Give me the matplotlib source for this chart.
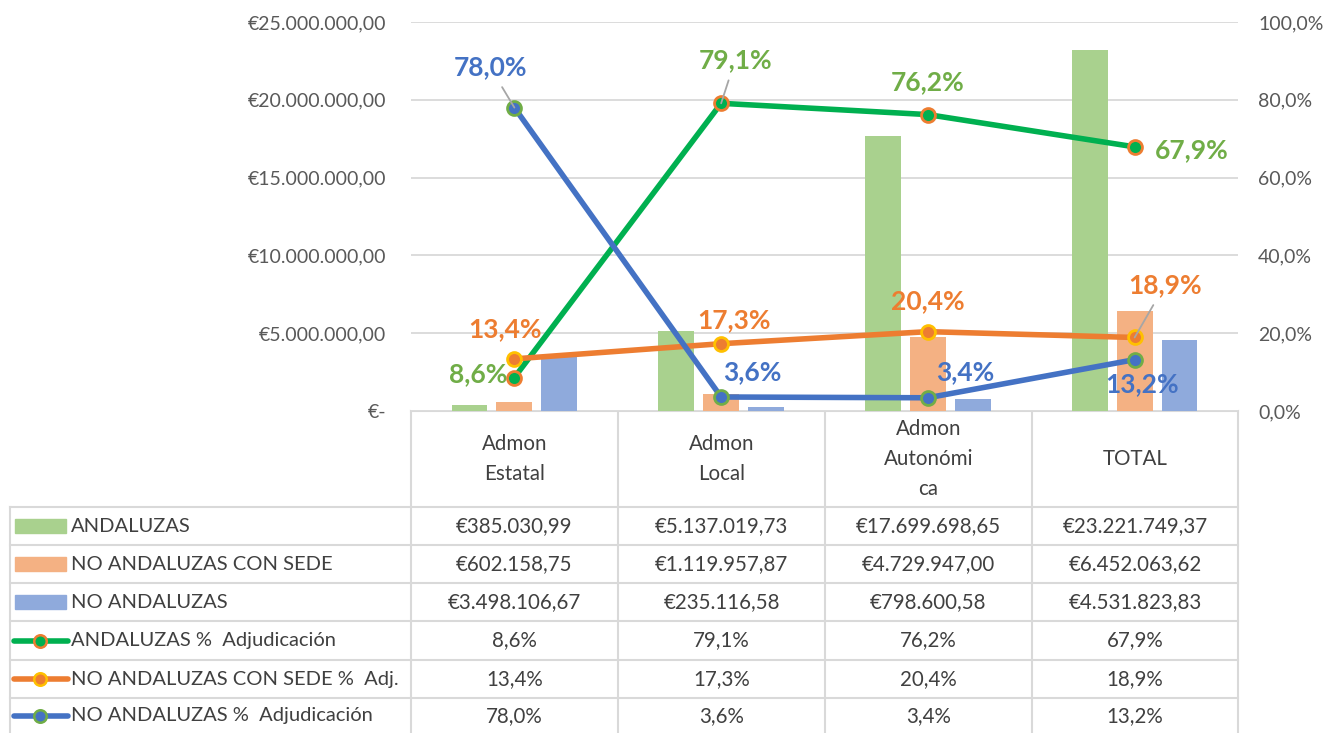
import matplotlib
matplotlib.use("Agg")
import matplotlib.pyplot as plt
from matplotlib.patches import Rectangle
from matplotlib.lines import Line2D
import numpy as np

plt.rcParams['font.family'] = ['Lato', 'DejaVu Sans']

categories = ["Admon\nEstatal", "Admon\nLocal", "Admon\nAutonómi\nca", "TOTAL"]
andaluzas = [385030.99, 5137019.73, 17699698.65, 23221749.37]
no_and_sede = [602158.75, 1119957.87, 4729947.00, 6452063.62]
no_and = [3498106.67, 235116.58, 798600.58, 4531823.83]
pct_and = [8.6, 79.1, 76.2, 67.9]
pct_sede = [13.4, 17.3, 20.4, 18.9]
pct_no = [78.0, 3.6, 3.4, 13.2]

left_ticks = [0, 5e6, 10e6, 15e6, 20e6, 25e6]
left_labels = ["€-", "€5.000.000,00", "€10.000.000,00", "€15.000.000,00", "€20.000.000,00", "€25.000.000,00"]
right_ticks = [0, 20, 40, 60, 80, 100]
right_labels = ["0,0%", "20,0%", "40,0%", "60,0%", "80,0%", "100,0%"]

C_BAR_G, C_BAR_O, C_BAR_B = "#A9D18E", "#F4B183", "#8FAADC"
C_L_G, C_L_O, C_L_B = "#00B050", "#ED7D31", "#4472C4"
C_LBL_G = "#70AD47"
C_GOLD = "#FFC000"
GRID = "#D9D9D9"
TXT = "#595959"
TTXT = "#404040"

W, H = 1338, 733
fig = plt.figure(figsize=(W/100, H/100), dpi=100)

def px_axes(x0, y0, x1, y1):
    return fig.add_axes([x0/W, 1 - y1/H, (x1-x0)/W, (y1-y0)/H])

ax = px_axes(411, 22, 1238, 411)
x = np.arange(len(categories))
bw = 0.174
sp = 0.217
ax.bar(x - sp, andaluzas, bw, color=C_BAR_G, zorder=2)
ax.bar(x, no_and_sede, bw, color=C_BAR_O, zorder=2)
ax.bar(x + sp, no_and, bw, color=C_BAR_B, zorder=2)
ax.set_xlim(-0.5, 3.5)
ax.set_ylim(0, 25e6)
ax.set_yticks(left_ticks)
ax.set_yticklabels(left_labels, color=TXT, fontsize=14)
ax.tick_params(axis='y', length=0, pad=18)
ax.set_xticks([])
ax.grid(axis='y', color=GRID, lw=1.3, zorder=0)
for s in ax.spines.values():
    s.set_visible(False)

ax2 = ax.twinx()
ax2.set_ylim(0, 100)
ax2.set_yticks(right_ticks)
ax2.set_yticklabels(right_labels, color=TXT, fontsize=14)
ax2.tick_params(axis='y', length=0, pad=14.5)
for s in ax2.spines.values():
    s.set_visible(False)

series = [
    (pct_and, C_L_G, C_L_G, C_L_O, C_LBL_G),
    (pct_sede, C_L_O, C_L_O, C_GOLD, C_L_O),
    (pct_no, C_L_B, C_L_B, C_LBL_G, C_L_B),
]
for vals, lc, mfc, mec, tc in series:
    ax2.plot(x, vals, color=lc, lw=4, marker='o', ms=10, mfc=mfc, mec=mec, mew=2, zorder=3)

def pct(v):
    return f"{v:.1f}%".replace('.', ',')

offsets = {
    'and': [(-36, 3, False), (14, 43, True), (0, 32, False), (57, -3, False)],
    'sede': [(-9, 30, False), (13, 24, False), (0, 31, False), (30, 52, True)],
    'no': [(-24, 40, True), (31, 25, False), (37, 26, False), (7, -24, False)],
}
for key, (vals, lc, mfc, mec, tc) in zip(['and', 'sede', 'no'], series):
    for i, v in enumerate(vals):
        dx, dy, lead = offsets[key][i]
        ax2.annotate(pct(v), xy=(i, v), xytext=(dx, dy), textcoords='offset pixels',
                     ha='center', va='center', fontsize=19, fontweight='bold', color=tc,
                     zorder=5,
                     arrowprops=dict(arrowstyle='-', color='#A6A6A6', lw=1.3,
                                     shrinkA=4, shrinkB=0) if lead else None)

# table overlay
tab = fig.add_axes([0, 0, 1, 1], zorder=-1)
tab.set_xlim(0, W)
tab.set_ylim(H, 0)
tab.axis('off')

col_x = [411, 618, 825, 1032, 1238]
row_y = [507, 545, 583, 621, 660, 698, 736]
lc_kw = dict(color=GRID, lw=1.5)
tab.plot([411, 1238], [411, 411], **lc_kw)
for cx in col_x:
    tab.plot([cx, cx], [411, 736], **lc_kw)
tab.plot([10, 10], [507, 736], **lc_kw)
for ry in row_y[:-1]:
    tab.plot([10, 1238], [ry, ry], **lc_kw)

centers = [(col_x[i] + col_x[i+1]) / 2 for i in range(4)]
for c, lab in zip(centers, categories):
    tab.text(c, 459, lab, ha='center', va='center', fontsize=14.8, color=TTXT,
             linespacing=1.6)

def euro(v):
    s = f"{v:,.2f}"
    s = s.replace(',', 'X').replace('.', ',').replace('X', '.')
    return "€" + s

row_labels = ["ANDALUZAS", "NO ANDALUZAS CON SEDE", "NO ANDALUZAS",
              "ANDALUZAS %  Adjudicación", "NO ANDALUZAS CON SEDE %  Adj.",
              "NO ANDALUZAS %  Adjudicación"]
row_vals = [[euro(v) for v in andaluzas], [euro(v) for v in no_and_sede], [euro(v) for v in no_and],
            [pct(v) for v in pct_and], [pct(v) for v in pct_sede], [pct(v) for v in pct_no]]
bar_cols = [C_BAR_G, C_BAR_O, C_BAR_B]
for r in range(6):
    yc = (row_y[r] + row_y[r+1]) / 2 if r < 5 else 716
    if r < 3:
        tab.add_patch(Rectangle((15, yc - 7), 51, 14, color=bar_cols[r]))
    else:
        vals, lc, mfc, mec, tc = series[r-3]
        tab.add_line(Line2D([14, 68], [yc, yc], color=lc, lw=4, solid_capstyle='round'))
        tab.add_line(Line2D([40], [yc], marker='o', ms=9, mfc=mfc, mec=mec, mew=1.8, color=lc))
    tab.text(71, yc, row_labels[r], ha='left', va='center', fontsize=14.5, color=TTXT)
    for c, s in zip(centers, row_vals[r]):
        tab.text(c, yc, s, ha='center', va='center', fontsize=14.8, color=TTXT)

fig.savefig("out.png", dpi=100)
